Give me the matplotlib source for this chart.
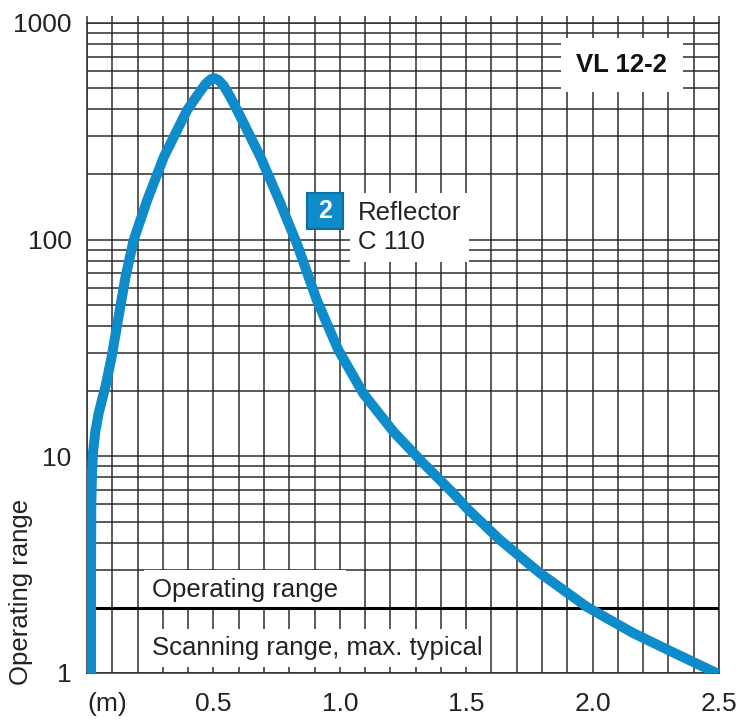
import numpy as np
import matplotlib
matplotlib.use("Agg")
from matplotlib import pyplot as plt
from matplotlib.ticker import FixedLocator, MultipleLocator, NullFormatter

plt.rcParams['font.family'] = ['Liberation Sans', 'DejaVu Sans']

# =============================================================================
# DATA
# =============================================================================
# distance (m) vs relative reserve, reflector C 110
dist_m = [0.016, 0.016, 0.017, 0.020, 0.024, 0.033, 0.046, 0.075, 0.098, 0.117,
          0.152, 0.185, 0.238, 0.304, 0.396, 0.440, 0.470, 0.490, 0.505, 0.520,
          0.540, 0.565, 0.594, 0.686, 0.760, 0.830, 0.909, 0.994, 1.093, 1.212,
          1.330, 1.449, 1.503, 1.634, 1.792, 1.977, 2.160, 2.334, 2.490]
reserve = [1.0, 3.0, 6.0, 8.5, 10.5, 13.0, 15.8, 21.5, 29.0, 39.0,
           67.0, 100.0, 152.0, 241.0, 396.0, 470.0, 525.0, 550.0, 556.0, 545.0,
           515.0, 460.0, 396.0, 241.0, 152.0, 96.0, 52.6, 31.0, 19.5, 13.0,
           9.3, 6.75, 5.75, 4.11, 2.89, 2.02, 1.53, 1.22, 1.0]

x_ticks = [0, 0.5, 1.0, 1.5, 2.0, 2.5]
x_ticklabels = ['(m)', '0.5', '1.0', '1.5', '2.0', '2.5']
y_ticks = [1, 10, 100, 1000]
y_ticklabels = ['1', '10', '100', '1000']
limit_level = 2  # border operating / scanning range

blue = '#0e8bca'
gridc = '#2e2e2e'
textc = '#222222'

# =============================================================================
# PLOT
# =============================================================================
fig = plt.figure(figsize=(7.42, 7.21), dpi=100)
ax = fig.add_axes([87/742, 48/721, 632/742, 650/721])

ax.set_yscale('log')
ax.set_xlim(0, 2.5)
ax.set_ylim(1, 1000)

ax.xaxis.set_major_locator(FixedLocator(x_ticks))
ax.xaxis.set_minor_locator(MultipleLocator(0.1))
ax.set_xticklabels(x_ticklabels)
ax.yaxis.set_major_locator(FixedLocator(y_ticks))
ax.yaxis.set_minor_locator(FixedLocator([m*10**d for d in range(3) for m in range(2, 10)]))
ax.yaxis.set_minor_formatter(NullFormatter())
ax.set_yticklabels(y_ticklabels)

ax.grid(True, which='both', color=gridc, lw=1.1)
ax.set_axisbelow(True)
for sp in ax.spines.values():
    sp.set_color(gridc)
    sp.set_linewidth(1.1)

ax.tick_params(axis='x', which='both', bottom=False, top=True, direction='out',
               length=5, width=1.1, color=gridc, labelsize=19, pad=9,
               labelcolor=textc)
ax.tick_params(axis='y', which='both', length=0, labelsize=19, pad=11,
               labelcolor=textc)
ax.get_xticklabels()[0].set_horizontalalignment('left')

# limit between operating and scanning range
ax.axhline(limit_level, color='black', lw=2.2, zorder=4)

ax.plot(dist_m, reserve, color=blue, lw=7.2, solid_capstyle='round',
        solid_joinstyle='round', zorder=5)

# labels with white background
ax.text(0.257, 2.42, 'Operating range', fontsize=18.5, ha='left', va='center',
        color=textc, bbox=dict(fc='white', ec='none', pad=6), zorder=3)
ax.text(0.257, 1.30, 'Scanning range, max. typical', fontsize=18.5, ha='left',
        va='center', color=textc, bbox=dict(fc='white', ec='none', pad=5), zorder=3)
ax.text(2.116, 640, 'VL 12-2', fontsize=18.5, fontweight='bold', ha='center',
        va='center', color='#111111', bbox=dict(fc='white', ec='none', pad=11), zorder=3)
ax.text(1.072, 114, 'Reflector\nC 110', fontsize=18.5, ha='left', va='center',
        linespacing=1.25, color=textc, bbox=dict(fc='white', ec='none', pad=6), zorder=3)

# numbered badge of the curve
ax.plot([0.94], [135], marker='s', ms=26, mfc=blue, mec='#0b6f9f', mew=1.5,
        ls='none', zorder=6)
ax.text(0.94, 135, '2', fontsize=18, fontweight='bold', ha='center', va='center',
        color='white', zorder=7)

fig.text(21/742, 36/721, 'Operating range', fontsize=18.5, rotation=90,
         ha='center', va='bottom', color=textc)

fig.savefig('out.png', dpi=100, facecolor='white')
